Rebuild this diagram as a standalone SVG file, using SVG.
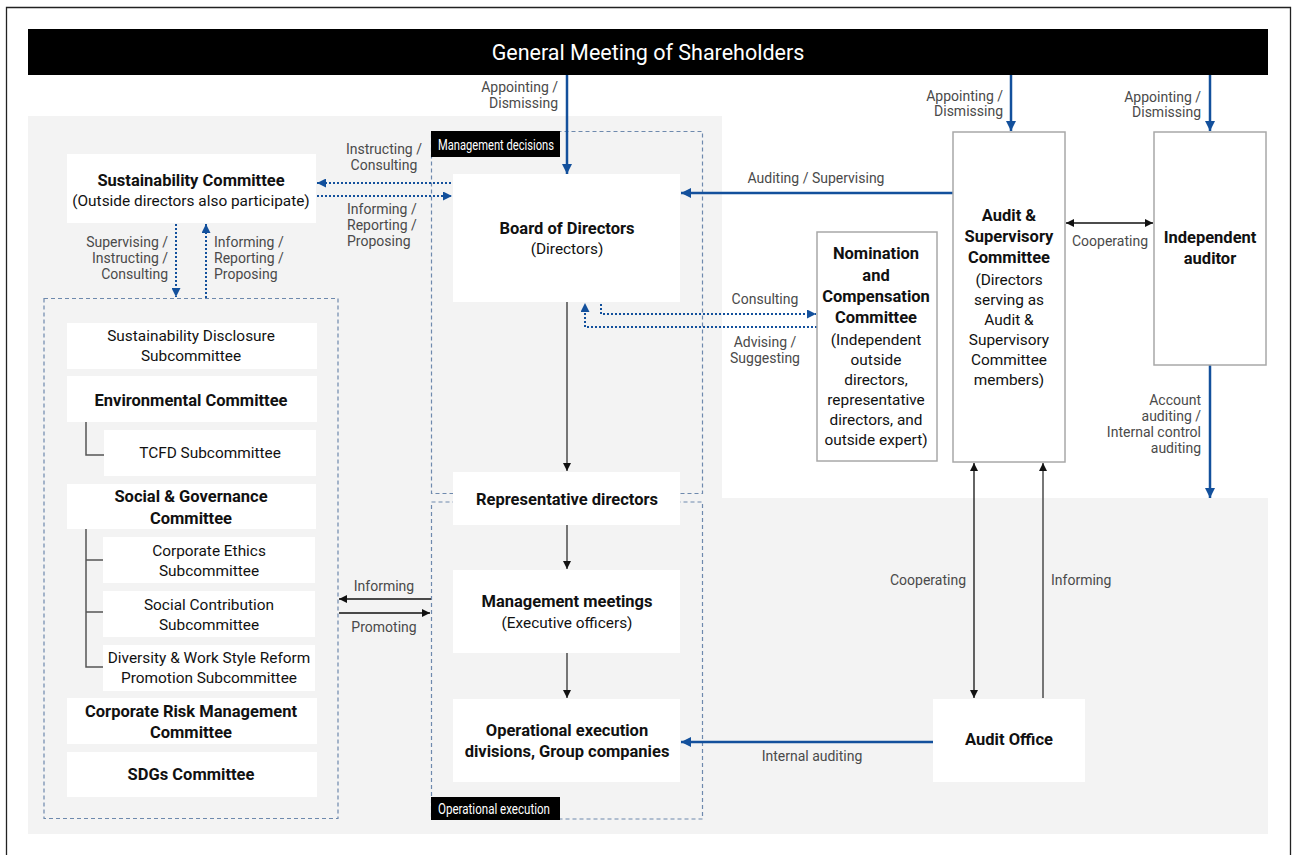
<svg xmlns="http://www.w3.org/2000/svg" width="1292" height="855" viewBox="0 0 1292 855">
<style>
text{font-family:Roboto,"Liberation Sans",sans-serif}
.lbl{font-size:14px;fill:#4a4a4a}
.m{text-anchor:middle}
.e{text-anchor:end}
.nb{font-size:16.5px;font-weight:bold;fill:#111;text-anchor:middle}
.nr{font-size:15.4px;fill:#111;text-anchor:middle}
.box{fill:#fff}
.boxs{fill:#fff;stroke:#a8a8a8;stroke-width:1.5}
.blue{stroke:#13509c;stroke-width:2.5;fill:none}
.dot{stroke:#13509c;stroke-width:2;stroke-dasharray:2 2;fill:none}
.dash{stroke:#6e89ad;stroke-width:1.2;stroke-dasharray:4 3;fill:none}
.flow{stroke:#555;stroke-width:1.6;fill:none}
.blk{stroke:#111;stroke-width:1.3;fill:none}
.tree{stroke:#555;stroke-width:1.5;fill:none}
.tag{fill:#000}
.tagt{font-size:14.5px;fill:#fff}
</style>
<defs>
<marker id="ab" viewBox="0 0 10 10" refX="10" refY="5" markerWidth="10" markerHeight="10" markerUnits="userSpaceOnUse" orient="auto-start-reverse"><path d="M0,0 L10,5 L0,10 z" fill="#13509c"/></marker>
<marker id="ad" viewBox="0 0 10 10" refX="10" refY="5" markerWidth="9" markerHeight="9" markerUnits="userSpaceOnUse" orient="auto-start-reverse"><path d="M0,0 L10,5 L0,10 z" fill="#13509c"/></marker>
<marker id="ak" viewBox="0 0 10 10" refX="10" refY="5" markerWidth="8" markerHeight="8" markerUnits="userSpaceOnUse" orient="auto-start-reverse"><path d="M0,0 L10,5 L0,10 z" fill="#111"/></marker>
</defs>
<rect width="1292" height="855" fill="#fff"/>
<path d="M6.5,855 V7.5 H1290.5 V855" fill="none" stroke="#222" stroke-width="1.3"/>
<path d="M28,116 H722 V498 H1268 V834 H28 Z" fill="#f3f3f3"/>

<g id="shareholders">
<rect x="28" y="29" width="1240" height="46" fill="#000"/>
<text x="648" y="59.5" font-size="21.5" fill="#fff" text-anchor="middle">General Meeting of Shareholders</text>
</g>

<g id="containers">
<rect class="dash" x="44" y="298.5" width="294" height="520"/>
<rect class="dash" x="431.5" y="131.5" width="271" height="362"/>
<rect class="dash" x="431.5" y="502" width="271" height="317"/>
</g>

<g id="connectors">
<path class="blue" d="M567,75 V174" marker-end="url(#ab)"/>
<path class="blue" d="M1011,75 V131" marker-end="url(#ab)"/>
<path class="blue" d="M1210,75 V131" marker-end="url(#ab)"/>
<path class="blue" d="M953,193 H681" marker-end="url(#ab)"/>
<path class="blue" d="M1210,365 V498" marker-end="url(#ab)"/>
<path class="blue" d="M933,742 H681" marker-end="url(#ab)"/>
<path class="blk" d="M1066,223 H1153" marker-start="url(#ak)" marker-end="url(#ak)"/>
<path class="blk" d="M974,463 V698" marker-start="url(#ak)" marker-end="url(#ak)"/>
<path class="flow" d="M1043,698 V463" marker-end="url(#ak)"/>
<path class="flow" d="M567,302 V471" marker-end="url(#ak)"/>
<path class="flow" d="M567,525 V569" marker-end="url(#ak)"/>
<path class="flow" d="M567,653 V698" marker-end="url(#ak)"/>
<path class="blk" d="M431,599 H339" marker-end="url(#ak)"/>
<path class="blk" d="M339,613 H430" marker-end="url(#ak)"/>
<path class="dot" d="M455,183 H317" marker-end="url(#ad)"/>
<path class="dot" d="M317,196 H452" marker-end="url(#ad)"/>
<path class="dot" d="M176,224 V297" marker-end="url(#ad)"/>
<path class="dot" d="M206,298 V224" marker-end="url(#ad)"/>
<path class="dot" d="M601,304 V314 H816" marker-end="url(#ad)"/>
<path class="dot" d="M817,327 H585 V303" marker-end="url(#ad)"/>
<path class="tree" d="M86,422 V455 H104"/>
<path class="tree" d="M86,529 V667 H103 M86,560 H103 M86,612 H103"/>

<text class="lbl e" x="558" y="92">Appointing /</text>
<text class="lbl e" x="558" y="108">Dismissing</text>
<text class="lbl e" x="1003" y="101">Appointing /</text>
<text class="lbl e" x="1003" y="116">Dismissing</text>
<text class="lbl e" x="1201" y="102">Appointing /</text>
<text class="lbl e" x="1201" y="117">Dismissing</text>
<text class="lbl m" x="384" y="154">Instructing /</text>
<text class="lbl m" x="384" y="170">Consulting</text>
<text class="lbl" x="347" y="214">Informing /</text>
<text class="lbl" x="347" y="230">Reporting /</text>
<text class="lbl" x="347" y="246">Proposing</text>
<text class="lbl e" x="168" y="247">Supervising /</text>
<text class="lbl e" x="168" y="263">Instructing /</text>
<text class="lbl e" x="168" y="279">Consulting</text>
<text class="lbl" x="214" y="247">Informing /</text>
<text class="lbl" x="214" y="263">Reporting /</text>
<text class="lbl" x="214" y="279">Proposing</text>
<text class="lbl m" x="384" y="591">Informing</text>
<text class="lbl m" x="384" y="632">Promoting</text>
<text class="lbl m" x="816" y="183">Auditing / Supervising</text>
<text class="lbl m" x="765" y="304">Consulting</text>
<text class="lbl m" x="765" y="347">Advising /</text>
<text class="lbl m" x="765" y="363">Suggesting</text>
<text class="lbl m" x="1110" y="246">Cooperating</text>
<text class="lbl e" x="1201" y="405">Account</text>
<text class="lbl e" x="1201" y="421">auditing /</text>
<text class="lbl e" x="1201" y="437">Internal control</text>
<text class="lbl e" x="1201" y="453">auditing</text>
<text class="lbl e" x="966" y="585">Cooperating</text>
<text class="lbl" x="1051" y="585">Informing</text>
<text class="lbl m" x="812" y="761">Internal auditing</text>
</g>

<g id="tag-management">
<rect class="tag" x="431" y="131" width="129" height="26"/>
<text class="tagt" x="438" y="149.5" textLength="116" lengthAdjust="spacingAndGlyphs">Management decisions</text>
</g>
<g id="tag-operational">
<rect class="tag" x="431" y="797" width="129" height="23"/>
<text class="tagt" x="438" y="813.5" textLength="112" lengthAdjust="spacingAndGlyphs">Operational execution</text>
</g>

<g id="sustainability">
<rect class="box" x="67" y="154" width="249" height="69"/>
<text class="nb" x="191" y="186">Sustainability Committee</text>
<text class="nr" x="191" y="206">(Outside directors also participate)</text>
</g>
<g id="disclosure">
<rect class="box" x="67" y="323" width="250" height="46"/>
<text class="nr" x="191" y="341">Sustainability Disclosure</text>
<text class="nr" x="191" y="361">Subcommittee</text>
</g>
<g id="environmental">
<rect class="box" x="67" y="376" width="250" height="46"/>
<text class="nb" x="191" y="406">Environmental Committee</text>
</g>
<g id="tcfd">
<rect class="box" x="104" y="430" width="212" height="46"/>
<text class="nr" x="210" y="458">TCFD Subcommittee</text>
</g>
<g id="social-governance">
<rect class="box" x="67" y="484" width="249" height="45"/>
<text class="nb" x="191" y="502">Social &amp; Governance</text>
<text class="nb" x="191" y="524">Committee</text>
</g>
<g id="ethics">
<rect class="box" x="103" y="537" width="212" height="46"/>
<text class="nr" x="209" y="556">Corporate Ethics</text>
<text class="nr" x="209" y="576">Subcommittee</text>
</g>
<g id="contribution">
<rect class="box" x="103" y="591" width="212" height="46"/>
<text class="nr" x="209" y="610">Social Contribution</text>
<text class="nr" x="209" y="630">Subcommittee</text>
</g>
<g id="diversity">
<rect class="box" x="103" y="645" width="212" height="46"/>
<text class="nr" x="209" y="663" font-size="14.2">Diversity &amp; Work Style Reform</text>
<text class="nr" x="209" y="683" font-size="14.2">Promotion Subcommittee</text>
</g>
<g id="risk">
<rect class="box" x="67" y="698" width="250" height="46"/>
<text class="nb" x="191" y="717">Corporate Risk Management</text>
<text class="nb" x="191" y="738">Committee</text>
</g>
<g id="sdgs">
<rect class="box" x="67" y="752" width="250" height="45"/>
<text class="nb" x="191" y="780">SDGs Committee</text>
</g>

<g id="board">
<rect class="box" x="453" y="174" width="227" height="128"/>
<text class="nb" x="567" y="234">Board of Directors</text>
<text class="nr" x="567" y="254">(Directors)</text>
</g>
<g id="representative">
<rect class="box" x="453" y="472" width="227" height="53"/>
<text class="nb" x="567" y="505">Representative directors</text>
</g>
<g id="management-meetings">
<rect class="box" x="453" y="570" width="227" height="83"/>
<text class="nb" x="567" y="607">Management meetings</text>
<text class="nr" x="567" y="628">(Executive officers)</text>
</g>
<g id="operational">
<rect class="box" x="453" y="699" width="227" height="83"/>
<text class="nb" x="567" y="736">Operational execution</text>
<text class="nb" x="567" y="757">divisions, Group companies</text>
</g>

<g id="nomination">
<rect class="boxs" x="817" y="232" width="120" height="229"/>
<text class="nb" x="876" y="259">Nomination</text>
<text class="nb" x="876" y="281">and</text>
<text class="nb" x="876" y="302">Compensation</text>
<text class="nb" x="876" y="323">Committee</text>
<text class="nr" x="876" y="345">(Independent</text>
<text class="nr" x="876" y="365">outside</text>
<text class="nr" x="876" y="385">directors,</text>
<text class="nr" x="876" y="405">representative</text>
<text class="nr" x="876" y="425">directors, and</text>
<text class="nr" x="876" y="445">outside expert)</text>
</g>
<g id="audit-supervisory">
<rect class="boxs" x="953" y="132" width="112" height="330"/>
<text class="nb" x="1009" y="221">Audit &amp;</text>
<text class="nb" x="1009" y="242">Supervisory</text>
<text class="nb" x="1009" y="263">Committee</text>
<text class="nr" x="1009" y="285">(Directors</text>
<text class="nr" x="1009" y="305">serving as</text>
<text class="nr" x="1009" y="325">Audit &amp;</text>
<text class="nr" x="1009" y="345">Supervisory</text>
<text class="nr" x="1009" y="365">Committee</text>
<text class="nr" x="1009" y="385">members)</text>
</g>
<g id="independent-auditor">
<rect class="boxs" x="1154" y="132" width="112" height="233"/>
<text class="nb" x="1210" y="243">Independent</text>
<text class="nb" x="1210" y="264">auditor</text>
</g>
<g id="audit-office">
<rect class="box" x="933" y="699" width="152" height="83"/>
<text class="nb" x="1009" y="745">Audit Office</text>
</g>
</svg>
